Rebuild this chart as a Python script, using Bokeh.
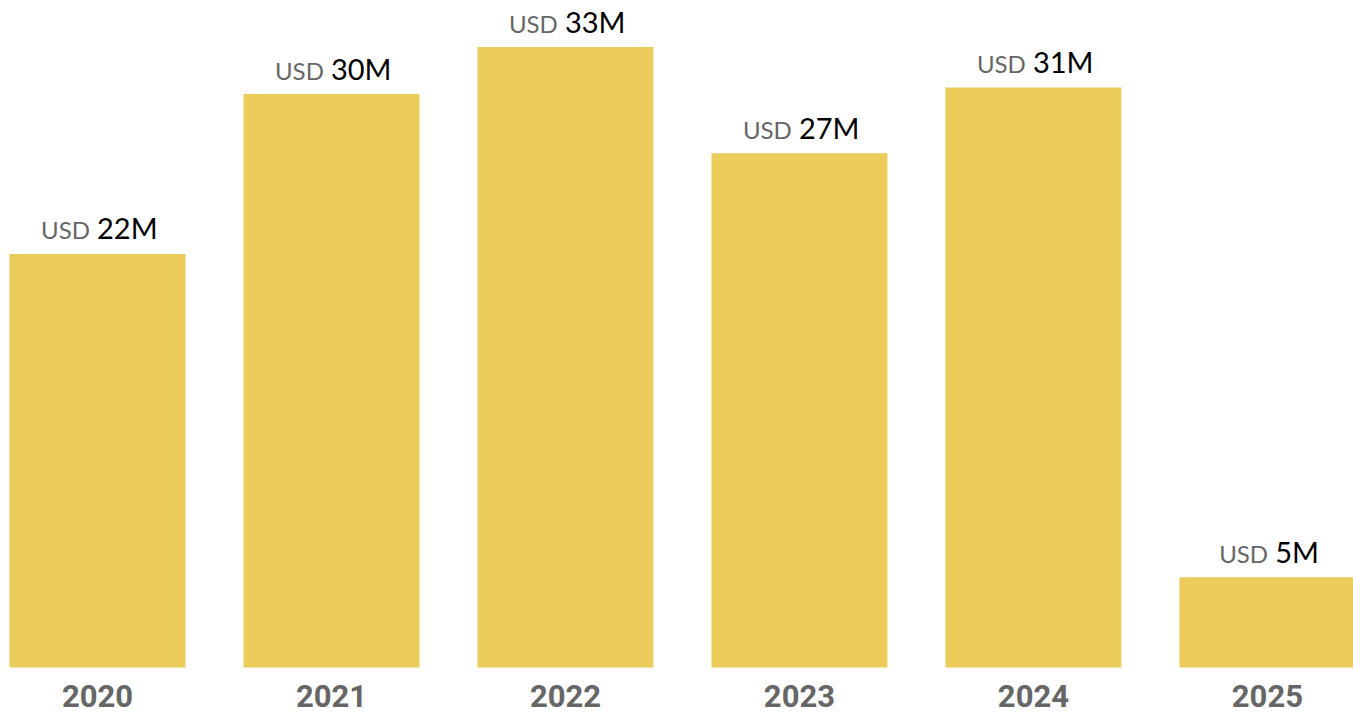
from bokeh.plotting import figure
from bokeh.models import ColumnDataSource, Range1d
from bokeh.core.properties import value
from bokeh.embed import file_html
from bokeh.resources import INLINE

years = ["2020", "2021", "2022", "2023", "2024", "2025"]
values = [22.0, 30.5, 33.0, 27.35, 30.85, 4.8]
labels = ["22M", "30M", "33M", "27M", "31M", "5M"]

x = list(range(len(years)))

# estimated text widths for centering the two-part label
def num_width(s):
    w = 0
    for ch in s:
        w += 24 if ch == "M" else 16.5
    return w

usd_w = 48
gap = 8
totals = [usd_w + gap + num_width(s) for s in labels]
usd_off = [-t / 2 for t in totals]
num_off = [-t / 2 + usd_w + gap for t in totals]

src = ColumnDataSource(dict(x=x, top=values, year=years, lab=labels,
                            usd=["USD"] * len(years), uoff=usd_off, noff=num_off))

p = figure(width=1353, height=715, output_backend="svg", toolbar_location=None,
           x_range=Range1d(-0.4145, 5.368), y_range=Range1d(-2.553, 35.48),
           min_border=0)
p.axis.visible = False
p.grid.visible = False
p.outline_line_color = None
p.background_fill_color = "white"

p.vbar(x="x", top="top", bottom=0, width=0.752, source=src,
       fill_color="#EBCB5A", line_color=None)

p.text(x="x", y="top", text="usd", source=src, x_offset="uoff", y_offset=-24,
       text_align="left", text_baseline="middle",
       text_font=value("Lato"), text_font_size="24px", text_color="#666666")
p.text(x="x", y="top", text="lab", source=src, x_offset="noff", y_offset=-26,
       text_align="left", text_baseline="middle",
       text_font=value("Lato"), text_font_size="29px", text_color="#000000")

p.text(x="x", y=0, text="year", source=src, y_offset=28,
       text_align="center", text_baseline="middle",
       text_font=value("Roboto"), text_font_style="bold", text_font_size="31px",
       text_color="#666666")

open("out.html", "w").write(file_html(p, INLINE))
